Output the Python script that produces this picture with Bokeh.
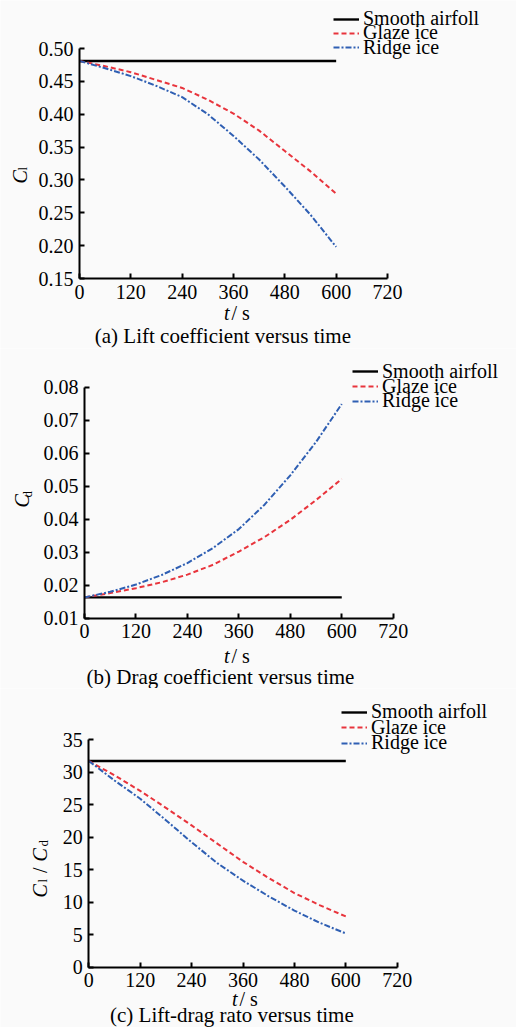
import math
from bokeh.plotting import figure
from bokeh.layouts import column
from bokeh.models import Label, Legend, LegendItem, FixedTicker, NumeralTickFormatter, Range1d
from bokeh.embed import file_html
from bokeh.resources import INLINE

# ---------------- data ----------------
t = [0, 60, 120, 180, 240, 300, 360, 420, 480, 540, 600]
x_ticks = [0, 120, 240, 360, 480, 600, 720]
x_limits = (0, 720)
series_names = ["Smooth airfoll", "Glaze ice", "Ridge ice"]

cl_smooth = [0.481] * 11
cl_glaze = [0.481, 0.473, 0.464, 0.452, 0.440, 0.422, 0.401, 0.375, 0.344, 0.313, 0.279]
cl_ridge = [0.481, 0.470, 0.458, 0.443, 0.426, 0.400, 0.367, 0.331, 0.290, 0.247, 0.198]
cl_ticks = [0.15, 0.20, 0.25, 0.30, 0.35, 0.40, 0.45, 0.50]

cd_smooth = [0.0163] * 11
cd_glaze = [0.0163, 0.0176, 0.0191, 0.0209, 0.0232, 0.0262, 0.0302, 0.0346, 0.0398, 0.0458, 0.0522]
cd_ridge = [0.0163, 0.0180, 0.0202, 0.0231, 0.0267, 0.0313, 0.0370, 0.0444, 0.0533, 0.0634, 0.0749]
cd_ticks = [0.01, 0.02, 0.03, 0.04, 0.05, 0.06, 0.07, 0.08]

ld_smooth = [31.7] * 11
ld_glaze = [31.7, 29.5, 27.1, 24.5, 21.8, 19.0, 16.2, 13.7, 11.4, 9.5, 7.8]
ld_ridge = [31.7, 28.7, 25.9, 22.6, 19.2, 16.0, 13.3, 10.9, 8.7, 6.8, 5.2]
ld_ticks = [0, 5, 10, 15, 20, 25, 30, 35]

captions = ["(a) Lift coefficient versus  time",
            "(b) Drag coefficient versus time",
            "(c) Lift-drag rato versus  time"]

# ---------------- style ----------------
SERIF = "Liberation Serif"
BG = "#fafafa"
RED = "#e8343c"
BLUE = "#2f5fb3"
FS = "20px"
W = 516
ROW_H = 24
BASE_FIX = 6   # label anchor correction along the text's downward direction


def panel(fig_top, H, frame, yticks, fmt, ys, leg_x, leg_rows,
          ylabel_parts, xlab, cap):
    left, top, fw, fh = frame          # frame box in page pixels
    ylo, yhi = yticks[0], yticks[-1]
    bottom_px = fig_top + H - (top + fh)
    top_px = top - fig_top
    xspan = x_limits[1] - x_limits[0]
    yspan = yhi - ylo
    xr = Range1d(x_limits[0] - left * xspan / fw, x_limits[1] + (W - left - fw) * xspan / fw)
    yr = Range1d(ylo - bottom_px * yspan / fh, yhi + top_px * yspan / fh)
    p = figure(width=W, height=H, x_range=xr, y_range=yr,
               output_backend="svg", toolbar_location=None,
               min_border=0, background_fill_color=BG, border_fill_color=BG)
    p.outline_line_color = None
    p.xgrid.visible = False
    p.ygrid.visible = False
    p.xaxis.fixed_location = ylo
    p.yaxis.fixed_location = x_limits[0]
    p.xaxis.bounds = x_limits
    p.yaxis.bounds = (ylo, yhi)
    p.xaxis.ticker = FixedTicker(ticks=x_ticks)
    p.yaxis.ticker = FixedTicker(ticks=yticks)
    p.yaxis.formatter = NumeralTickFormatter(format=fmt)
    for ax in (p.xaxis, p.yaxis):
        ax.axis_line_width = 2
        ax.axis_line_color = "black"
        ax.major_tick_in = 5
        ax.major_tick_out = 0
        ax.major_tick_line_width = 2
        ax.major_tick_line_color = "black"
        ax.minor_tick_line_color = None
        ax.major_label_text_font = SERIF
        ax.major_label_text_font_size = FS
        ax.major_label_text_color = "black"
        ax.major_label_standoff = 6

    r1 = p.line(t, ys[0], line_color="black", line_width=2.4)
    r2 = p.line(t, ys[1], line_color=RED, line_width=2, line_dash="5 3")
    r3 = p.line(t, ys[2], line_color=BLUE, line_width=2, line_dash="6 2 2 2")

    # one legend per entry so rows can sit as tightly as in the reference
    for name, rend, cy in zip(series_names, (r1, r2, r3), leg_rows):
        lg = Legend(items=[LegendItem(label=name, renderers=[rend])],
                    location=(leg_x, fig_top + H - cy - ROW_H / 2),
                    glyph_width=26, glyph_height=ROW_H, label_height=ROW_H,
                    label_standoff=4, spacing=0, padding=0, margin=0,
                    border_line_color=None, background_fill_alpha=0,
                    label_text_font=SERIF, label_text_font_size=FS,
                    label_text_color="black")
        p.add_layout(lg)

    def lab(text, px, py, size=FS, style="normal", align="left", angle=0.0):
        # px, py: page pixels (py from the top) of the text baseline start
        if angle:
            px -= BASE_FIX
        else:
            py -= BASE_FIX
        p.add_layout(Label(x=px, y=fig_top + H - py, x_units="screen", y_units="screen",
                           text=text, text_font=SERIF, text_font_size=size,
                           text_font_style=style, text_color="black",
                           text_align=align, text_baseline="alphabetic", angle=angle))

    for (txt, px, py, size, style) in ylabel_parts:
        lab(txt, px, py, size=size, style=style, angle=math.pi / 2)

    t_end, base = xlab
    lab("t", t_end, base, style="italic", align="right")
    lab("/ s", t_end + 2, base, align="left")

    cap_text, cap_x, cap_y = cap
    lab(cap_text, cap_x, cap_y, size="21px", align="center")
    return p


pa = panel(0, 348, (79, 48, 308, 230), cl_ticks, "0.00",
           [cl_smooth, cl_glaze, cl_ridge], 333, (18.5, 32.5, 47),
           [("C", 25, 183, FS, "italic"), ("l", 28, 170, "13px", "normal")],
           (229, 318), (captions[0], 225, 341))

pb = panel(348, 340, (84, 386.7, 308.7, 231), cd_ticks, "0.00",
           [cd_smooth, cd_glaze, cd_ridge], 352, (371, 386, 400.5),
           [("C", 27, 507, FS, "italic"), ("d", 33, 497, "13px", "normal")],
           (229, 661), (captions[1], 220, 682))

pc = panel(688, 339, (88.3, 739, 308.4, 227.7), ld_ticks, "0",
           [ld_smooth, ld_glaze, ld_ridge], 341, (711.5, 727, 742.5),
           [("C", 45, 897, FS, "italic"), ("l", 48, 882, "13px", "normal"),
            ("/", 45, 872.5, FS, "normal"), ("C", 45, 861, FS, "italic"),
            ("d", 49, 846, "13px", "normal")],
           (237, 1004), (captions[2], 234, 1020))

layout = column(pa, pb, pc, spacing=0)
open("out.html", "w").write(file_html(layout, INLINE))
